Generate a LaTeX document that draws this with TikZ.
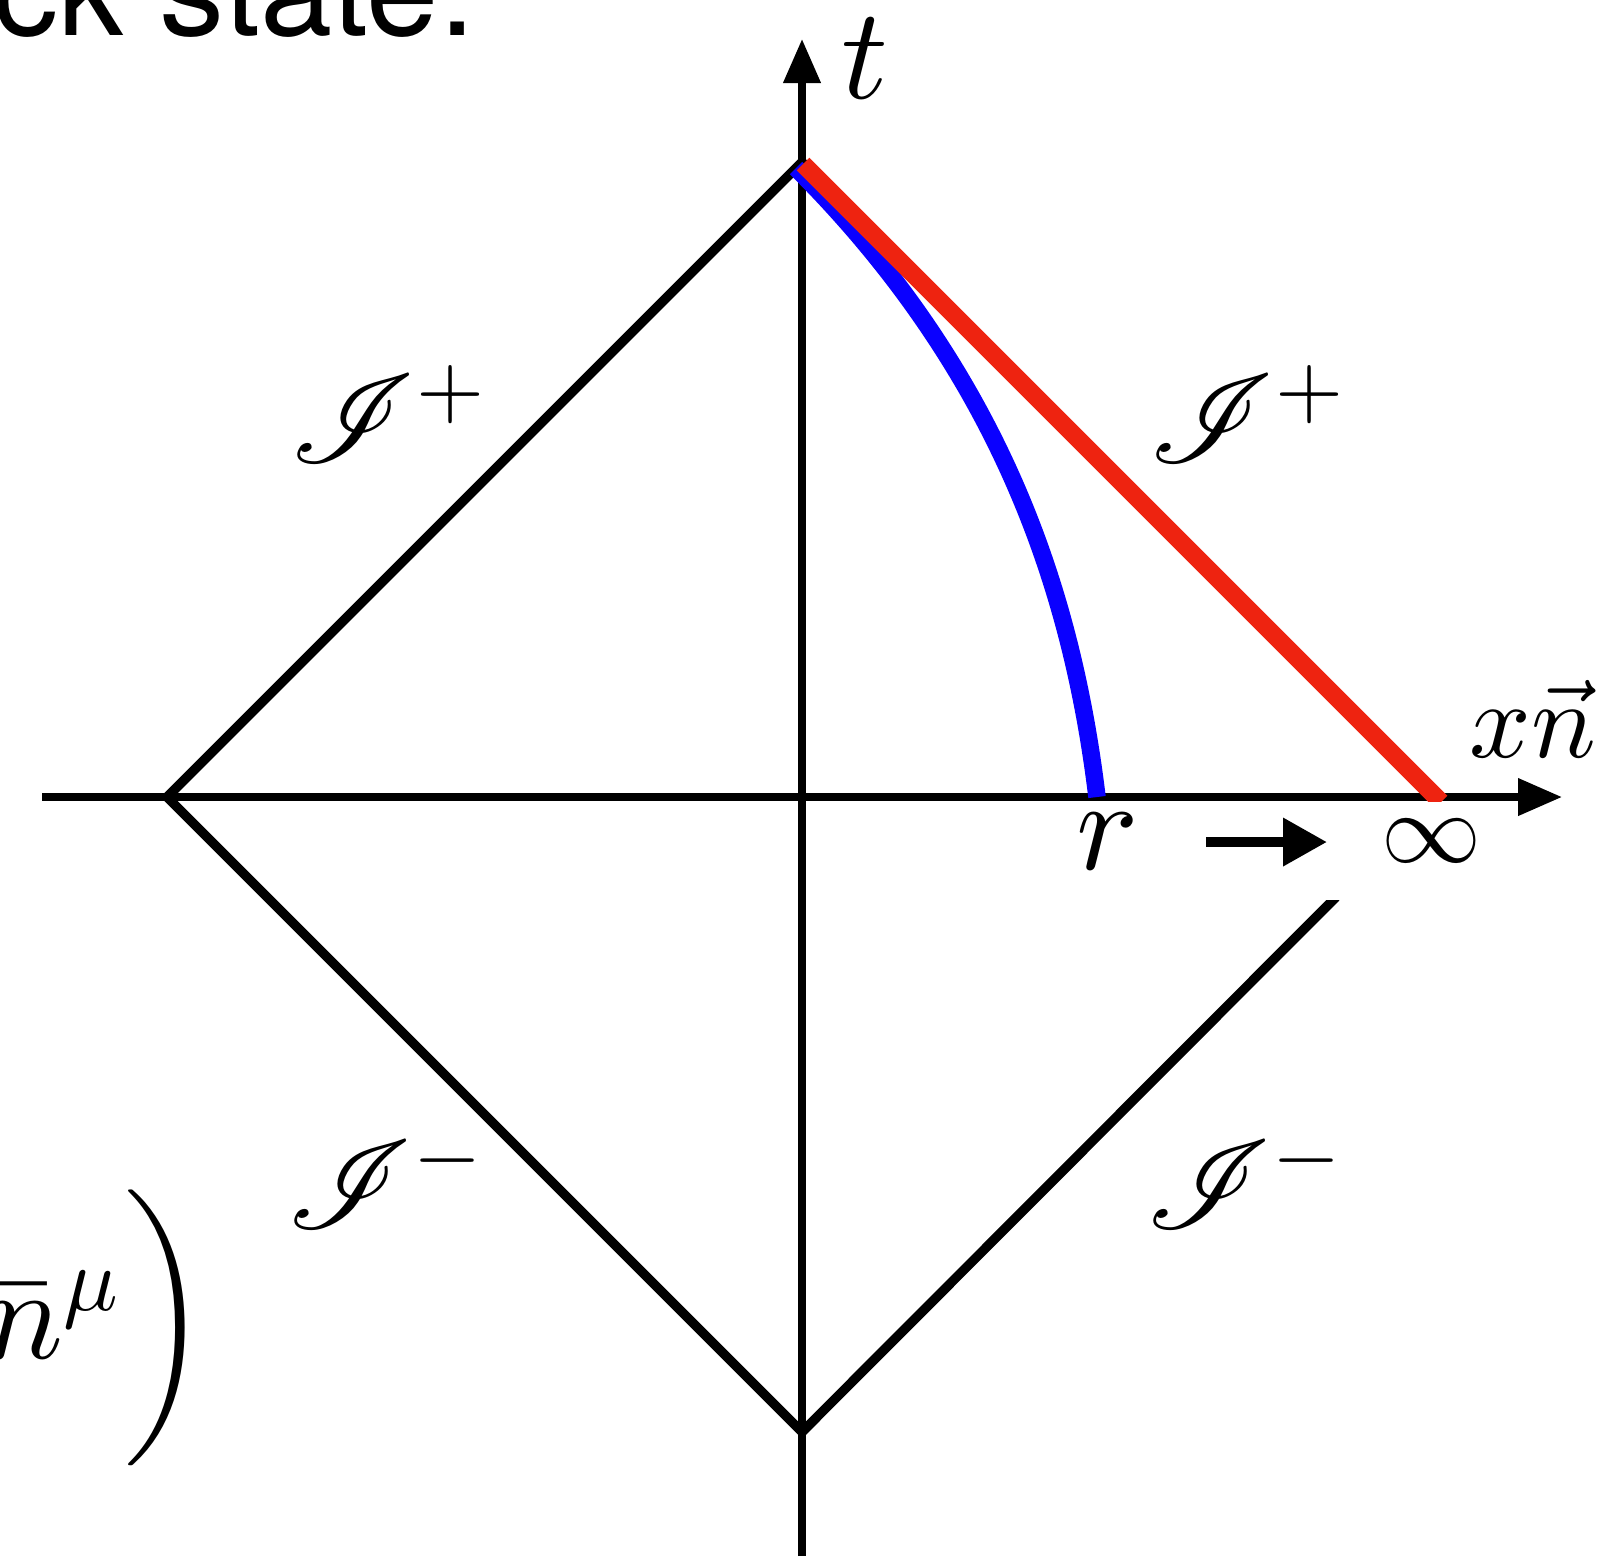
\documentclass[tikz,border=0pt]{standalone}
\usepackage{amsmath}
\usepackage{mathrsfs}
\DeclareFontFamily{U}{rsfs}{\skewchar\font127 }
\DeclareFontShape{U}{rsfs}{m}{n}{<-> rsfs10}{}
\DeclareFontShape{OML}{cmm}{m}{it}{<-> cmmi10}{}
\DeclareFontShape{OMS}{cmsy}{m}{n}{<-> cmsy10}{}
\DeclareFontShape{OMX}{cmex}{m}{n}{<-> cmex10}{}
\DeclareFontShape{OT1}{cmr}{m}{n}{<-> cmr10}{}
\usepackage[no-math]{fontspec}
\newfontfamily\hfont{TeX Gyre Heros}
\usetikzlibrary{arrows.meta}
\definecolor{cred}{RGB}{238,35,16}
\definecolor{cblue}{RGB}{10,0,255}
\tikzset{
  axisline/.style={line width=0.73pt,-{Triangle[length=4.4pt,width=3.6pt]}},
  diamondline/.style={line width=0.95pt,line join=miter},
  nullline/.style={line width=1.8pt,color=cred},
  orbit/.style={line width=1.75pt,color=cblue},
  lbl/.style={inner sep=0pt,font=\fontsize{13}{15}\selectfont},
  scrilbl/.style={inner sep=0pt,font=\fontsize{12.5}{15}\selectfont},
  smalllbl/.style={inner sep=0pt,font=\fontsize{10}{12}\selectfont},
  sarrow/.style={line width=1.0pt,-{Triangle[length=4.4pt,width=4.6pt]}}
}
\begin{document}
\begin{tikzpicture}[x=0.1pt,y=-0.1pt]
\useasboundingbox (0,0) rectangle (1603,1556);
% points
\coordinate (L) at (167,797);
\coordinate (T) at (802,162);
\coordinate (B) at (802,1432);
\coordinate (R) at (1437,797);
\coordinate (LRend) at (1336,897);
\coordinate (xs) at (42,797);
\coordinate (xe) at (1562,797);
\coordinate (ys) at (802,1556);
\coordinate (ye) at (802,39);
\coordinate (bs) at (796,168);
\coordinate (be) at (1097,797);
\coordinate (rs) at (803,164);
\coordinate (re) at (1441,802);
\coordinate (sa) at (1206,842);
\coordinate (sb) at (1327,842);
% diamond
\begin{scope}
\clip (0,0) -- (1250,0) -- (1250,900) -- (1603,900) -- (1603,1556) -- (0,1556) -- cycle;
\draw[diamondline] (LRend) -- (B) -- (L) -- (T) -- (R);
\end{scope}
% axes
\draw[axisline] (xs) -- (xe);
\draw[axisline] (ys) -- (ye);
% blue curve
\draw[orbit] (bs) .. controls (1000,372) and (1072,590) .. (be);
% red null line
\begin{scope}
\clip (0,0) rectangle (1603,801);
\draw[nullline] (rs) -- (re);
\end{scope}
% small arrow
\draw[sarrow] (sa) -- (sb);
% labels
\node[lbl] (tlab) at (865,58) {$t$};
\node[inner sep=0pt,anchor=base,font=\fontsize{10.8}{13}\selectfont] (xlab) at (1533,757) {$x\vec{n}$};
\node[lbl,anchor=base] (rlab) at (1108,869) {$r$};
\node[smalllbl] (inflab) at (1431,841) {$\infty$};
\node[scrilbl] (scriUL) at (390,414) {$\mathscr{I}^{+}$};
\node[scrilbl] (scriUR) at (1249,414) {$\mathscr{I}^{+}$};
\node[scrilbl] (scriLL) at (387,1180) {$\mathscr{I}^{-}$};
\node[scrilbl] (scriLR) at (1246,1180) {$\mathscr{I}^{-}$};
\node[lbl,anchor=base west] (nbar) at (-17,1358) {$\bar{n}^{\mu}$};
\node[inner sep=0pt,font=\fontsize{11.5}{13}\selectfont] (paren) at (167,1328) {$\bigg)$};
\node[inner sep=0pt,anchor=base west,font=\hfont\fontsize{13}{15}\selectfont] (head) at (-9,35) {ck state.};
\end{tikzpicture}
\end{document}
